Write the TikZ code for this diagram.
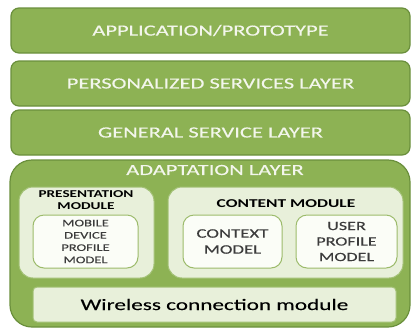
\documentclass[tikz,border=0pt]{standalone}
\usepackage{fontspec}
\setmainfont[FakeStretch=1.45,UprightFeatures={FakeBold=0.25}]{Carlito}
\definecolor{layergreen}{HTML}{8DB254}
\definecolor{layerborder}{HTML}{6A8F3C}
\definecolor{modfill}{HTML}{E8F0DA}
\definecolor{modborder}{HTML}{A3C176}
\definecolor{innerfill}{HTML}{FBFDF7}
\definecolor{innerborder}{HTML}{9CBB6B}
\definecolor{lighttext}{HTML}{F3F6EC}
\definecolor{darktext}{HTML}{3C3C3C}
\begin{document}
\begin{tikzpicture}[x=1pt,y=-1pt,
  layerbox/.style={draw=layerborder,line width=1.2pt,fill=layergreen,rounded corners=8pt,
    minimum width=399pt,minimum height=45pt,inner sep=0pt,text=lighttext,font=\fontsize{15.5}{17}\selectfont},
  modbox/.style={draw=modborder,line width=1pt,fill=modfill,rounded corners=14pt,inner sep=0pt},
  innerbox/.style={draw=innerborder,line width=1pt,fill=innerfill,rounded corners=11pt,inner sep=0pt,
    align=center,text=darktext},
  modtitle/.style={font=\bfseries,text=black,align=center,inner sep=0pt},
]
\useasboundingbox (0,0) rectangle (411,330);
\node[layerbox] (app) at (210.5,30.5) {APPLICATION/PROTOTYPE};
\node[layerbox] (pers) at (210.5,83.5) {PERSONALIZED SERVICES LAYER};
\node[layerbox] (gen) at (210.5,132.5) {GENERAL SERVICE LAYER};
\node[draw=layerborder,line width=1.2pt,fill=layergreen,rounded corners=22pt,
  minimum width=400pt,minimum height=167pt,inner sep=0pt] (adapt) at (210,243.5) {};
\node[text=lighttext,font=\fontsize{15.5}{17}\selectfont,inner sep=0pt] (adapttitle) at (215,170) {ADAPTATION LAYER};
\node[modbox,minimum width=135pt,minimum height=91pt] (pres) at (86.5,232.5) {};
\node[modtitle,font=\bfseries\fontsize{10.5}{12}\selectfont] (prestitle) at (86,200) {PRESENTATION\\MODULE};
\node[innerbox,minimum width=105pt,minimum height=53pt,font=\fontsize{10}{12.3}\selectfont] (mobile) at (85.5,241.5) {MOBILE\\DEVICE\\PROFILE\\MODEL};
\node[modbox,minimum width=235pt,minimum height=91pt] (content) at (285.5,232.5) {};
\node[modtitle,font=\bfseries\fontsize{12}{14}\selectfont] (contenttitle) at (286,204) {CONTENT MODULE};
\node[innerbox,minimum width=99pt,minimum height=53pt,font=\fontsize{13}{16}\selectfont] (context) at (232.5,241.5) {CONTEXT\\MODEL};
\node[innerbox,minimum width=101pt,minimum height=53pt,font=\fontsize{12.5}{15.5}\selectfont] (user) at (346.5,241.5) {USER\\PROFILE\\MODEL};
\node[modbox,rounded corners=4pt,minimum width=363pt,minimum height=35pt,
  font=\fontsize{16}{19}\selectfont,text=black] (wireless) at (214.5,304.5) {Wireless connection module};
\end{tikzpicture}
\end{document}
